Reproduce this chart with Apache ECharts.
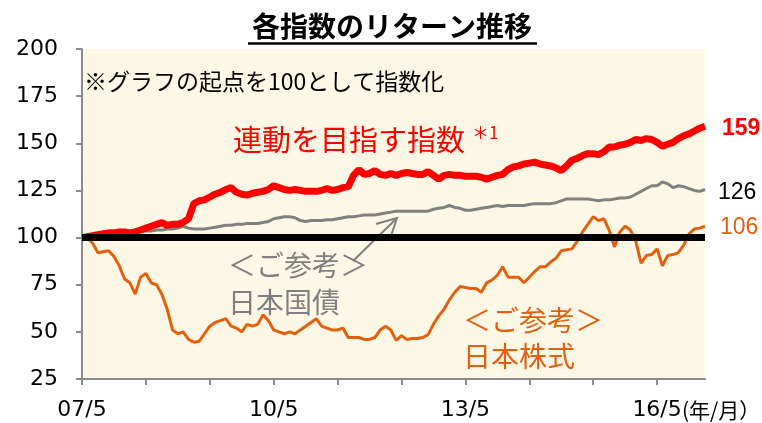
<!DOCTYPE html>
<html>
<head>
<meta charset="utf-8">
<script src="https://cdn.jsdelivr.net/npm/echarts@6/dist/echarts.min.js"></script>
<style>
  html, body { margin: 0; padding: 0; background: #fff; }
  #chart { width: 762px; height: 423px; }
</style>
</head>
<body>
<div id="chart"></div>
<script>
// 月次（07/5 〜 17/2）
const months = []
for (let i = 0; i < 118; i++) {
  const y = 2007 + Math.floor((4 + i) / 12)
  const m = (4 + i) % 12 + 1
  months.push(String(y % 100).padStart(2, '0') + '/' + m)
}

// 連動を目指す指数
const targetIndex = [
  100, 100.5, 101, 101.5, 102, 102.5, 102.5, 103, 103, 102.5, 103, 104,
  105, 106, 107, 108, 106.5, 107, 107, 108, 110, 118, 119.5, 120,
  121.5, 123, 124, 125.5, 126.5, 124, 123, 122.5, 123.5, 124, 124.5, 125.5,
  127.5, 126.5, 125.5, 125, 125.5, 125, 124.5, 124.5, 124.5, 125, 126, 125,
  125.5, 126.5, 127, 133, 136, 133.5, 134, 135.5, 133.5, 133, 134, 133,
  134, 134.5, 134, 133.5, 133.5, 135, 133, 131, 133, 133.5, 133, 133, 132.5,
  132.5, 132.5, 132, 131, 132, 133, 133.5, 136, 137.5, 138, 139, 139.5,
  140, 139, 138.5, 138, 137, 135.5, 138, 141, 142, 143.5, 144.5, 144.5,
  144, 145.5, 148, 148, 149, 149.5, 150.5, 152, 151.5, 152.5, 152, 150.5,
  148.5, 149.5, 150.5, 152.5, 154, 155, 156.5, 158, 159
]

// 日本国債
const jgb = [
  100, 100.5, 101, 101.5, 102, 102, 102.5, 102.5, 102.5, 103, 103, 103.5,
  103.5, 103.5, 104, 104, 104.5, 104.5, 105, 106, 105, 104.5, 104.5, 104.5,
  105, 105.5, 106, 106.5, 106.5, 107, 107, 107.5, 107.5, 107.5, 108, 108.5,
  110, 110.5, 111, 111, 110.5, 109, 108.5, 109, 109, 109, 109.5, 109.5,
  110, 110.5, 111, 111, 111.5, 112, 112, 112, 112.5, 113, 113.5, 114,
  114, 114, 114, 114, 114, 114, 115, 115.5, 116, 117, 116, 115.5, 114.5,
  114.5, 115, 115.5, 116, 116.5, 117, 116.5, 117, 117, 117, 117, 117.5,
  118, 118, 118, 118, 118.5, 119.5, 120.5, 120.5, 120.5, 120.5, 120.5, 120,
  119.5, 120, 120, 120.5, 121, 121, 121.5, 123, 124.5, 126, 127.5, 127.5,
  129.5, 128.5, 126.5, 127.5, 127, 126, 125, 124.5, 125.5
]

// 日本株式
const jpStock = [
  100, 100, 97, 92, 92.5, 93, 90, 85, 78, 76, 70, 79,
  81, 76, 75, 70, 62, 51, 49, 50, 46, 44.5, 45, 49,
  53, 55, 56, 57, 53, 52, 50, 54, 53, 54, 59, 56,
  51, 50, 49, 50, 49, 51, 53, 55, 57, 53, 52, 51,
  51, 52, 47, 47, 47, 46, 46, 47, 51, 53, 51, 45.5,
  48, 46, 46.5, 46.5, 47, 48.5, 54, 58.5, 62, 67, 71, 74, 73.5,
  73, 73, 71, 76, 77.5, 80, 84.5, 79, 79, 79, 76, 79,
  82, 84.5, 84.5, 87, 89, 93, 93.5, 94, 98, 103, 107, 111,
  109, 110, 104, 95, 103, 106, 104, 98, 86.5, 90.5, 91, 94,
  85, 90.5, 91, 92, 96, 102, 104.5, 105, 106
]

const baseLevel = 100

const jp = '"Noto Sans CJK JP", sans-serif'
const num = '"DejaVu Sans", sans-serif'
const arial = '"Liberation Sans", Arial, sans-serif'
const red = '#FF0000'
const gray = '#808080'
const orange = '#E4600E'

const chart = echarts.init(document.getElementById('chart'))

const endLabel = (color, bold, dist, dy) => ({
  show: true,
  formatter: p => String(Math.round(p.value)),
  color: color,
  fontFamily: arial,
  fontSize: 23,
  fontWeight: bold ? 'bold' : 'normal',
  distance: dist,
  offset: [0, dy]
})

const option = {
  animation: false,
  grid: {
    left: 82, right: 57, top: 49, bottom: 44,
    show: true,
    backgroundColor: '#FDF8E5',
    borderWidth: 0
  },
  xAxis: {
    type: 'category',
    data: months,
    boundaryGap: false,
    axisLine: { lineStyle: { color: '#8c8c8c', width: 2 } },
    axisTick: {
      interval: i => i % 12 === 0,
      length: 6,
      lineStyle: { color: '#8c8c8c', width: 2 }
    },
    axisLabel: {
      interval: i => i % 36 === 0,
      margin: 20,
      color: '#000',
      fontFamily: num,
      fontSize: 22
    },
    splitLine: { show: false }
  },
  yAxis: {
    type: 'value',
    min: 25,
    max: 200,
    interval: 25,
    axisLine: { show: true, lineStyle: { color: '#8c8c8c', width: 2 } },
    axisTick: { show: true, length: 6, lineStyle: { color: '#8c8c8c', width: 2 } },
    axisLabel: { margin: 24, color: '#000', fontFamily: num, fontSize: 22 },
    splitLine: { show: false }
  },
  series: [
    {
      name: '日本国債',
      type: 'line',
      data: jgb,
      showSymbol: false,
      z: 2,
      lineStyle: { color: gray, width: 3 },
      itemStyle: { color: gray },
      endLabel: endLabel('#000', false, 13, 3)
    },
    {
      name: '日本株式',
      type: 'line',
      data: jpStock,
      showSymbol: false,
      z: 3,
      lineStyle: { color: orange, width: 3 },
      itemStyle: { color: orange },
      endLabel: endLabel(orange, false, 15, 1)
    },
    {
      name: '連動を目指す指数',
      type: 'line',
      data: targetIndex,
      showSymbol: false,
      z: 4,
      lineStyle: { color: red, width: 7 },
      itemStyle: { color: red },
      endLabel: endLabel(red, true, 17, 2)
    },
    {
      name: '基準',
      type: 'line',
      data: [],
      z: 6,
      markLine: {
        silent: true,
        symbol: 'none',
        label: { show: false },
        lineStyle: { color: '#000', width: 7, type: 'solid' },
        data: [{ yAxis: baseLevel }]
      }
    }
  ],
  graphic: [
    // タイトル
    {
      type: 'text', x: 392, y: 26,
      style: { text: '各指数のリターン推移', font: 'bold 28px ' + jp, fill: '#000', textAlign: 'center', textVerticalAlign: 'middle' }
    },
    { type: 'line', shape: { x1: 248, y1: 43.5, x2: 537, y2: 43.5 }, style: { stroke: '#000', lineWidth: 2.5 } },
    // 注記
    {
      type: 'text', x: 84, y: 81,
      style: { text: '※グラフの起点を100として指数化', font: '23px ' + jp, fill: '#000', textVerticalAlign: 'middle' }
    },
    {
      type: 'text', x: 233, y: 140,
      style: { text: '連動を目指す指数', font: '29px ' + jp, fill: red, textVerticalAlign: 'middle' }
    },
    {
      type: 'text', x: 472, y: 133,
      style: { text: '＊1', font: '17px ' + jp, fill: red, textVerticalAlign: 'middle' }
    },
    {
      type: 'text', x: 228, y: 265,
      style: { text: '＜ご参考＞', font: '28px ' + jp, fill: gray, textVerticalAlign: 'middle' }
    },
    {
      type: 'text', x: 228, y: 302,
      style: { text: '日本国債', font: '28px ' + jp, fill: gray, textVerticalAlign: 'middle' }
    },
    {
      type: 'polyline', shape: { points: [[353, 261], [397, 218]] },
      style: { stroke: gray, lineWidth: 2, fill: null }
    },
    {
      type: 'polyline', shape: { points: [[376, 224], [397, 218], [390, 239]] },
      style: { stroke: gray, lineWidth: 2, fill: null }
    },
    {
      type: 'text', x: 463, y: 320,
      style: { text: '＜ご参考＞', font: '28px ' + jp, fill: orange, textVerticalAlign: 'middle' }
    },
    {
      type: 'text', x: 463, y: 356,
      style: { text: '日本株式', font: '28px ' + jp, fill: orange, textVerticalAlign: 'middle' }
    },
    {
      type: 'text', x: 682, y: 410,
      style: { text: '(年/月）', font: '21px ' + jp, fill: '#000', textVerticalAlign: 'middle' }
    }
  ]
}

chart.setOption(option)
</script>
</body>
</html>
